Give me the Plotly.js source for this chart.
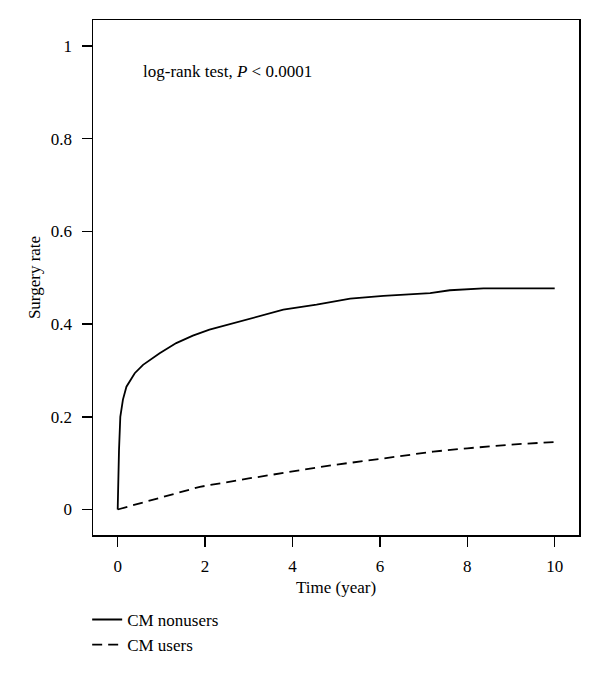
<!DOCTYPE html>
<html>
<head>
<meta charset="utf-8">
<script src="https://cdn.plot.ly/plotly-3.0.1.min.js"></script>
<style>html,body{margin:0;padding:0;background:#fff;}#chart{width:600px;height:676px;}</style>
</head>
<body>
<div id="chart"></div>
<script>
// Cumulative surgery rate, CM nonusers (solid)
const nonusersTime = [0, 0.01, 0.03, 0.06, 0.12, 0.2, 0.39, 0.58, 0.96, 1.34, 1.72, 2.1, 2.49, 2.87, 3.03, 3.32, 3.79, 4.55, 4.86, 5.32, 6.08, 7.15, 7.6, 8.37, 10.0];
const nonusersRate = [0, 0.06, 0.128, 0.2, 0.237, 0.265, 0.294, 0.312, 0.337, 0.359, 0.375, 0.388, 0.398, 0.409, 0.413, 0.419, 0.431, 0.442, 0.447, 0.455, 0.461, 0.467, 0.473, 0.477, 0.477];
// Cumulative surgery rate, CM users (dashed)
const usersTime = [0, 1, 1.88, 3, 4, 4.93, 6, 7.22, 8, 9, 10.06];
const usersRate = [0, 0.026, 0.049, 0.067, 0.082, 0.096, 0.109, 0.125, 0.132, 0.14, 0.146];
const seriesNames = ["CM nonusers", "CM users"];
const xTicks = [0, 2, 4, 6, 8, 10];
const yTicks = [0, 0.2, 0.4, 0.6, 0.8, 1];
const yTickLabels = ["0", "0.2", "0.4", "0.6", "0.8", "1"];

const FONT = "Liberation Serif, Times New Roman, serif";
const FS = 17;

const traces = [
  {x: nonusersTime, y: nonusersRate, name: seriesNames[0], mode: "lines",
   line: {color: "#000", width: 1.8, dash: "solid"}},
  {x: usersTime, y: usersRate, name: seriesNames[1], mode: "lines",
   line: {color: "#000", width: 1.8, dash: "10px,6px"}}
];

const layout = {
  width: 600, height: 676,
  margin: {l: 93, r: 21, t: 20, b: 141},
  paper_bgcolor: "#fff", plot_bgcolor: "#fff",
  font: {family: FONT, size: FS, color: "#000"},
  showlegend: true,
  legend: {x: -0.012, y: -0.13, xanchor: "left", yanchor: "top",
           orientation: "v", font: {family: FONT, size: FS, color: "#000"},
           bgcolor: "rgba(0,0,0,0)"},
  xaxis: {
    range: [-0.565, 10.556], tickvals: xTicks, ticktext: xTicks.map(String),
    ticks: "outside", ticklen: 10, tickwidth: 1.5, tickcolor: "#000",
    showline: true, linecolor: "#000", linewidth: 1.5, mirror: true,
    showgrid: false, zeroline: false, ticklabelstandoff: 5,
    title: {text: "Time (year)", font: {family: FONT, size: FS}, standoff: 6}
  },
  yaxis: {
    range: [-0.055, 1.056], tickvals: yTicks, ticktext: yTickLabels,
    ticks: "outside", ticklen: 10, tickwidth: 1.5, tickcolor: "#000",
    showline: true, linecolor: "#000", linewidth: 1.5, mirror: true,
    showgrid: false, zeroline: false, ticklabelstandoff: 6,
    title: {text: "Surgery rate", font: {family: FONT, size: FS}, standoff: 6}
  },
  annotations: [
    {x: 0.53, y: 0.945, xref: "x", yref: "y", xanchor: "left", yanchor: "middle",
     text: "log-rank test, <i>P</i> &lt; 0.0001", showarrow: false,
     font: {family: FONT, size: FS, color: "#000"}}
  ]
};

Plotly.newPlot("chart", traces, layout, {displayModeBar: false, staticPlot: true});
</script>
</body>
</html>
